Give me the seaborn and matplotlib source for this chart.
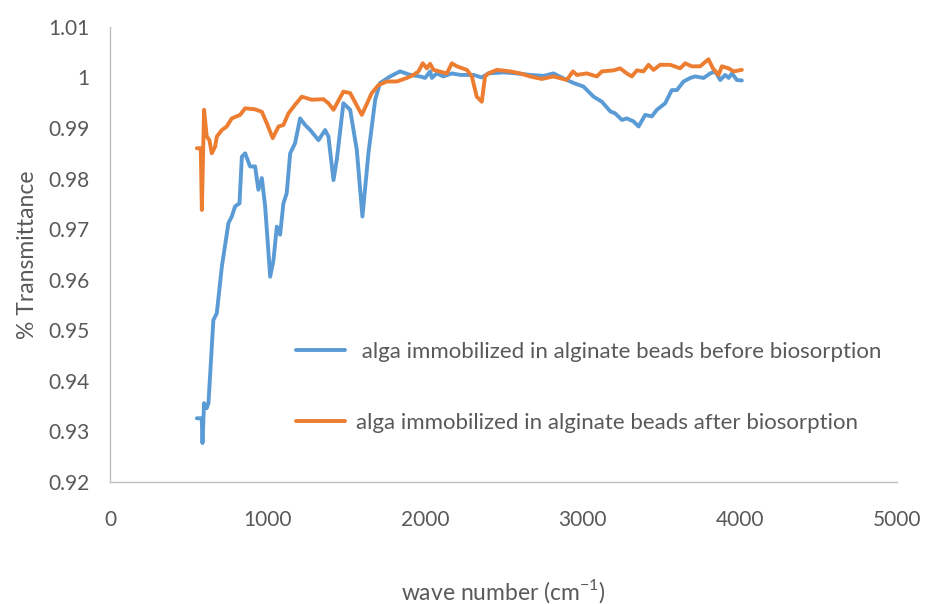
import matplotlib
matplotlib.use("Agg")
import matplotlib.pyplot as plt
import seaborn as sns
import pandas as pd

sns.set_theme(style="white")
plt.rcParams['font.family'] = ['Lato', 'DejaVu Sans']
plt.rcParams['mathtext.fontset'] = 'custom'
plt.rcParams['mathtext.rm'] = 'Lato'

before_label = " alga immobilized in alginate beads before biosorption"
after_label = "alga immobilized in alginate beads after biosorption"

before_x = [551, 582, 587, 597, 614, 625, 656, 678, 710, 752, 773, 794, 822, 837, 858, 889,
            921, 942, 964, 985, 1017, 1038, 1059, 1080, 1101, 1122, 1144, 1175, 1207, 1239,
            1271, 1324, 1366, 1387, 1419, 1440, 1482, 1525, 1567, 1603, 1641, 1684, 1715,
            1779, 1842, 1906, 1970, 2001, 2033, 2044, 2075, 2117, 2171, 2224, 2308, 2361,
            2403, 2499, 2584, 2668, 2753, 2816, 2901, 2944, 3007, 3071, 3124, 3177, 3208,
            3251, 3282, 3325, 3357, 3399, 3441, 3473, 3526, 3568, 3600, 3643, 3685, 3717,
            3770, 3812, 3844, 3876, 3907, 3929, 3950, 3981, 4013]
before_y = [0.9326, 0.9326, 0.9277, 0.9356, 0.9346, 0.9356, 0.9520, 0.9534, 0.9626, 0.9712,
            0.9725, 0.9745, 0.9751, 0.9843, 0.9850, 0.9824, 0.9824, 0.9778, 0.9801, 0.9745,
            0.9606, 0.9639, 0.9705, 0.9689, 0.9751, 0.9771, 0.9850, 0.9870, 0.9919, 0.9906,
            0.9896, 0.9876, 0.9896, 0.9883, 0.9797, 0.9837, 0.9949, 0.9936, 0.9857, 0.9725,
            0.9850, 0.9956, 0.9989, 1.0002, 1.0012, 1.0005, 1.0002, 0.9999, 1.0012, 0.9999,
            1.0008, 1.0002, 1.0008, 1.0005, 1.0005, 1.0000, 1.0008, 1.0010, 1.0008, 1.0005,
            1.0003, 1.0008, 0.9995, 0.9989, 0.9982, 0.9962, 0.9952, 0.9933, 0.9929, 0.9916,
            0.9919, 0.9913, 0.9903, 0.9926, 0.9923, 0.9936, 0.9949, 0.9975, 0.9975, 0.9992,
            0.9999, 1.0002, 0.9999, 1.0008, 1.0012, 0.9995, 1.0005, 0.9999, 1.0008, 0.9995,
            0.9994]

after_x = [551, 576, 583, 597, 614, 631, 646, 667, 678, 710, 741, 773, 826, 858, 921, 964,
           996, 1033, 1070, 1101, 1133, 1175, 1218, 1281, 1355, 1387, 1419, 1482, 1525, 1599,
           1662, 1705, 1758, 1822, 1885, 1927, 1959, 1986, 2012, 2033, 2054, 2139, 2171, 2203,
           2266, 2298, 2329, 2361, 2382, 2403, 2457, 2541, 2605, 2668, 2742, 2816, 2901, 2940,
           2965, 3028, 3092, 3124, 3198, 3240, 3282, 3314, 3346, 3388, 3420, 3452, 3494, 3558,
           3621, 3653, 3695, 3748, 3801, 3829, 3865, 3886, 3929, 3961, 4013]
after_y = [0.9860, 0.9860, 0.9738, 0.9936, 0.9883, 0.9876, 0.9850, 0.9863, 0.9883, 0.9896,
           0.9903, 0.9919, 0.9926, 0.9939, 0.9937, 0.9932, 0.9909, 0.9880, 0.9903, 0.9906,
           0.9929, 0.9946, 0.9962, 0.9956, 0.9957, 0.9949, 0.9936, 0.9972, 0.9969, 0.9926,
           0.9969, 0.9985, 0.9992, 0.9992, 0.9999, 1.0005, 1.0012, 1.0028, 1.0018, 1.0027,
           1.0015, 1.0008, 1.0028, 1.0022, 1.0015, 1.0002, 0.9962, 0.9952, 1.0002, 1.0008,
           1.0015, 1.0012, 1.0008, 1.0002, 0.9997, 1.0002, 0.9995, 1.0012, 1.0005, 1.0008,
           1.0002, 1.0012, 1.0014, 1.0018, 1.0008, 1.0002, 1.0014, 1.0012, 1.0025, 1.0015,
           1.0025, 1.0025, 1.0018, 1.0028, 1.0022, 1.0022, 1.0036, 1.0018, 1.0005, 1.0022,
           1.0018, 1.0012, 1.0015]

x_ticks = [0, 1000, 2000, 3000, 4000, 5000]
y_ticks = [0.92, 0.93, 0.94, 0.95, 0.96, 0.97, 0.98, 0.99, 1.00, 1.01]
y_tick_labels = ["0.92", "0.93", "0.94", "0.95", "0.96", "0.97", "0.98", "0.99", "1", "1.01"]

fig = plt.figure(figsize=(9.25, 6.04), dpi=100)
ax = fig.add_axes([0.119, 0.202, 0.851, 0.7535])

sns.lineplot(x=before_x, y=before_y, ax=ax, color="#5B9BD5", linewidth=2.8,
             estimator=None, sort=False, label=before_label)
sns.lineplot(x=after_x, y=after_y, ax=ax, color="#ED7D31", linewidth=2.8,
             estimator=None, sort=False, label=after_label)

ax.set_xlim(0, 5000)
ax.set_ylim(0.92, 1.01)
ax.set_xticks(x_ticks)
ax.set_xticklabels([str(t) for t in x_ticks])
ax.set_yticks(y_ticks)
ax.set_yticklabels(y_tick_labels)

txt = "#595959"
ax.tick_params(axis='both', length=0, colors=txt, labelsize=15)
ax.tick_params(axis='y', pad=15)
ax.tick_params(axis='x', pad=20)

for s in ['top', 'right']:
    ax.spines[s].set_visible(False)
for s in ['left', 'bottom']:
    ax.spines[s].set_color("#BFBFBF")
    ax.spines[s].set_linewidth(1.0)

ax.set_ylabel("% Transmittance", fontsize=16.5, color=txt, labelpad=7)
ax.set_xlabel(r"wave number (cm$^{\mathregular{-1}}$)", fontsize=16.5, color=txt, labelpad=34)

leg = ax.legend(loc="upper left", bbox_to_anchor=(0.236, 0.308), frameon=False,
                fontsize=16, labelspacing=2.3, handlelength=2.2, handletextpad=0.5,
                borderpad=0, borderaxespad=0)
for t in leg.get_texts():
    t.set_color(txt)

fig.savefig("out.png", dpi=100)
